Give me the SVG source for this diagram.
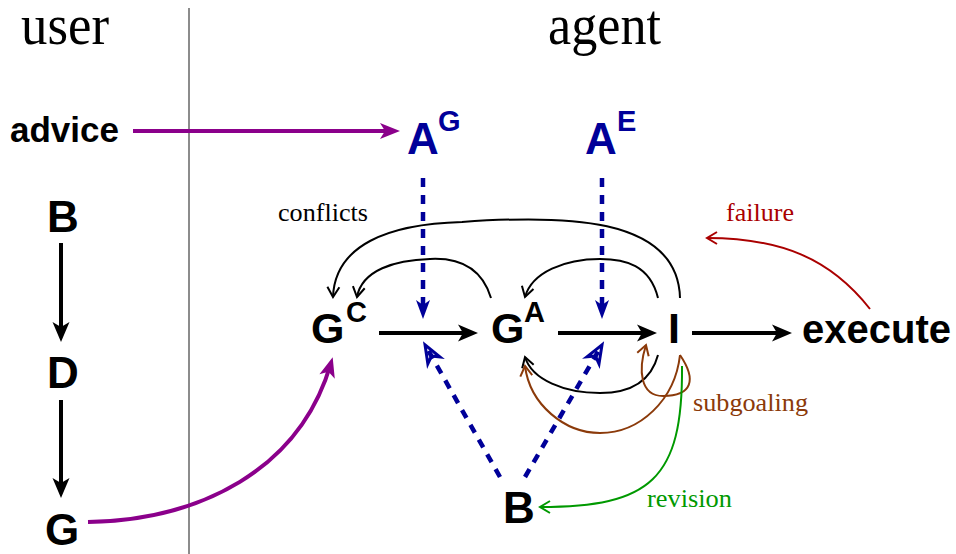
<svg xmlns="http://www.w3.org/2000/svg" width="956" height="554" viewBox="0 0 956 554">
<style>
.hdr{font-family:"Liberation Serif",serif;font-size:58px;fill:#000}
.nd{font-family:"Liberation Sans",Arial,sans-serif;font-weight:bold;fill:#000}
.blue{fill:#000099}
.sup{font-size:29px}
.lbl{font-family:"Liberation Serif",serif;font-size:25px}
.thick{fill:none;stroke:#000;stroke-width:4}
.purple{fill:none;stroke:#8b008b;stroke-width:4}
.dash{fill:none;stroke:#000099;stroke-width:4.5;stroke-dasharray:9 8}
.thin{fill:none;stroke-width:2}
</style>
<defs>
<marker id="hb" markerUnits="userSpaceOnUse" markerWidth="40" markerHeight="40" viewBox="-20 -20 40 40" refX="0" refY="0" orient="auto" overflow="visible">
<path d="M-14,-8.5 L6,0 L-14,8.5 L-9,0 z" fill="#000"/>
</marker>
<marker id="hp" markerUnits="userSpaceOnUse" markerWidth="40" markerHeight="40" viewBox="-20 -20 40 40" refX="0" refY="0" orient="auto" overflow="visible">
<path d="M-14,-8 L6,0 L-14,8 L-9,0 z" fill="#8b008b"/>
</marker>
<marker id="hbl" markerUnits="userSpaceOnUse" markerWidth="40" markerHeight="40" viewBox="-20 -20 40 40" refX="0" refY="0" orient="auto" overflow="visible">
<path d="M-13,-7 L6,0 L-13,7 L-8,0 z" fill="#000099"/>
</marker>
<marker id="hbo" markerUnits="userSpaceOnUse" markerWidth="40" markerHeight="40" viewBox="-20 -20 40 40" refX="0" refY="0" orient="auto" overflow="visible">
<path d="M-12,-7 L6,0 L-12,7 L-7,0 z" fill="none" stroke="#000099" stroke-width="3" stroke-linejoin="miter"/>
</marker>
<marker id="vk" markerUnits="userSpaceOnUse" markerWidth="30" markerHeight="30" viewBox="-15 -15 30 30" refX="0" refY="0" orient="auto" overflow="visible">
<path d="M-10,-6 L0,0 L-10,6" fill="none" stroke="#000" stroke-width="2"/>
</marker>
<marker id="vbr" markerUnits="userSpaceOnUse" markerWidth="30" markerHeight="30" viewBox="-15 -15 30 30" refX="0" refY="0" orient="auto" overflow="visible">
<path d="M-10,-6 L0,0 L-10,6" fill="none" stroke="#8b3a0a" stroke-width="2"/>
</marker>
<marker id="vg" markerUnits="userSpaceOnUse" markerWidth="30" markerHeight="30" viewBox="-15 -15 30 30" refX="0" refY="0" orient="auto" overflow="visible">
<path d="M-10,-6 L0,0 L-10,6" fill="none" stroke="#009900" stroke-width="2"/>
</marker>
<marker id="vr" markerUnits="userSpaceOnUse" markerWidth="30" markerHeight="30" viewBox="-15 -15 30 30" refX="0" refY="0" orient="auto" overflow="visible">
<path d="M-10,-6 L0,0 L-10,6" fill="none" stroke="#aa0000" stroke-width="2"/>
</marker>
</defs>
<rect width="956" height="554" fill="#fff"/>

<g id="headers">
<text class="hdr" x="21" y="44" textLength="88" lengthAdjust="spacingAndGlyphs">user</text>
<text class="hdr" x="548" y="44" textLength="113" lengthAdjust="spacingAndGlyphs">agent</text>
<line x1="189" y1="8" x2="189" y2="554" stroke="#666" stroke-width="1.5"/>
</g>

<g id="advice"><text class="nd" x="10" y="142" font-size="35">advice</text></g>
<g id="userB"><text class="nd" x="47" y="232" font-size="44">B</text></g>
<g id="userD"><text class="nd" x="47" y="388" font-size="44">D</text></g>
<g id="userG"><text class="nd" x="45" y="545" font-size="44">G</text></g>

<g id="AG"><text class="nd blue" x="407" y="154" font-size="44">A<tspan class="sup" x="438" y="131">G</tspan></text></g>
<g id="AE"><text class="nd blue" x="585" y="154" font-size="44">A<tspan class="sup" x="617" y="131">E</tspan></text></g>
<g id="GC"><text class="nd" x="311" y="343" font-size="43">G<tspan class="sup" x="346" y="322">C</tspan></text></g>
<g id="GA"><text class="nd" x="491" y="343" font-size="43">G<tspan class="sup" x="524" y="322">A</tspan></text></g>
<g id="I"><text class="nd" x="668" y="343" font-size="43">I</text></g>
<g id="execute"><text class="nd" x="802" y="343" font-size="40">execute</text></g>
<g id="agentB"><text class="nd" x="503" y="523" font-size="44">B</text></g>

<g id="labels">
<text class="lbl" x="278" y="221" fill="#000" textLength="90" lengthAdjust="spacingAndGlyphs">conflicts</text>
<text class="lbl" x="726" y="221" fill="#aa0000" textLength="68" lengthAdjust="spacingAndGlyphs">failure</text>
<text class="lbl" x="693" y="411" fill="#8b3a0a" textLength="115" lengthAdjust="spacingAndGlyphs">subgoaling</text>
<text class="lbl" x="647" y="507" fill="#009900" textLength="85" lengthAdjust="spacingAndGlyphs">revision</text>
</g>

<g id="connectors">
<path class="thick" d="M61 243 V336" marker-end="url(#hb)"/>
<path class="thick" d="M61 400 V492" marker-end="url(#hb)"/>
<path class="purple" d="M133 131 H394" marker-end="url(#hp)"/>
<path class="purple" d="M88 522 C200 520 300 470 331 363" marker-end="url(#hp)"/>
<path class="thick" d="M379 333 H472" marker-end="url(#hb)"/>
<path class="thick" d="M558 333 H651" marker-end="url(#hb)"/>
<path class="thick" d="M692 333 H786" marker-end="url(#hb)"/>
<path class="dash" d="M423 178 V313" marker-end="url(#hbl)"/>
<path class="dash" d="M602 178 V313" marker-end="url(#hbl)"/>
<path class="dash" d="M500 477 L428 350" marker-end="url(#hbo)"/>
<path class="dash" d="M525 477 L599 350" marker-end="url(#hbo)"/>
<path class="thin" stroke="#000" d="M680 298 C678 215 560 215 462 222 C388 224 335 245 333 297" marker-end="url(#vk)"/>
<path class="thin" stroke="#000" d="M491 298 C480 262 450 258 430 259 C395 260 362 270 357 297" marker-end="url(#vk)"/>
<path class="thin" stroke="#000" d="M658 298 C650 265 625 259 600 259 C565 259 532 272 525 297" marker-end="url(#vk)"/>
<path class="thin" stroke="#000" d="M658 355 C650 385 625 393 600 393 C565 393 532 380 525 357" marker-end="url(#vk)"/>
<path class="thin" stroke="#8b3a0a" d="M680 355 C675 400 640 433 600 433 C565 433 530 405 525 366" marker-end="url(#vbr)"/>
<path class="thin" stroke="#8b3a0a" d="M680 355 C697 380 692 396 663 396 C640 396 638 370 646 345" marker-end="url(#vbr)"/>
<path class="thin" stroke="#009900" d="M682 366 C683 480 650 507 540 507" marker-end="url(#vg)"/>
<path class="thin" stroke="#aa0000" d="M870 309 C830 258 780 238 707 238" marker-end="url(#vr)"/>
</g>
</svg>
